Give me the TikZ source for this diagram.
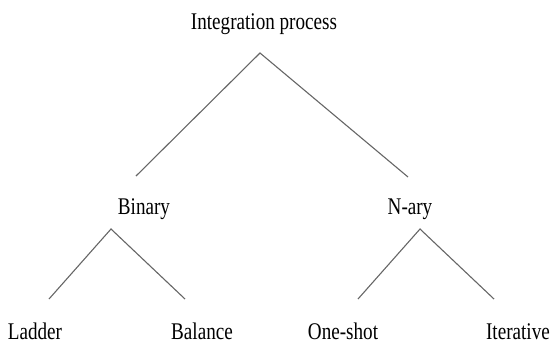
\documentclass[tikz,border=0pt]{standalone}
\usepackage{fontspec}
\setmainfont{Liberation Serif}[FakeStretch=0.8]
\usetikzlibrary{positioning}

\begin{document}
\begin{tikzpicture}[x=1bp,y=-1bp,
    label/.style={anchor=base,inner sep=0pt,font=\fontsize{24}{28}\selectfont},
    branch/.style={draw=black!60,line width=1.1bp}]
      \useasboundingbox (0,0) rectangle (552,344);

      \node[label] (integ) at (264,29) {Integration process};
      \node[label] (bin) at (144,214) {Binary};
      \node[label] (nary) at (410,214) {N-ary};
      \node[label] (ladder) at (35,339) {Ladder};
      \node[label] (balance) at (202,339) {Balance};
      \node[label] (oneshot) at (343,339) {One-shot};
      \node[label,anchor=base east] (iter) at (550,339) {Iterative};

      \coordinate (integ-top) at (260,53);
      \coordinate (bin-up) at (136,176);
      \coordinate (nary-up) at (408,177);
      \coordinate (bin-top) at (111,229);
      \coordinate (ladder-up) at (49,299);
      \coordinate (balance-up) at (185,299);
      \coordinate (nary-top) at (420,229);
      \coordinate (oneshot-up) at (358,299);
      \coordinate (iter-up) at (494,299);

      \path[branch] (bin-up) -- (integ-top) -- (nary-up)
            (ladder-up) -- (bin-top) -- (balance-up)
            (oneshot-up) -- (nary-top) -- (iter-up)
            ;
    \end{tikzpicture}
\end{document}
